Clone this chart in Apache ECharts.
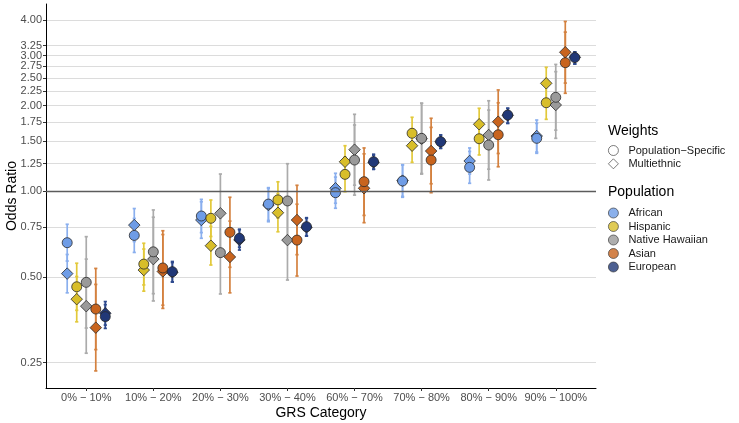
<!DOCTYPE html>
<html><head><meta charset="utf-8">
<script src="https://cdn.jsdelivr.net/npm/echarts@6/dist/echarts.min.js"></script>
<style>html,body{margin:0;padding:0;background:#fff}#c{width:739px;height:423px}</style>
</head><body><div id="c"></div>
<script>
const categories = ['0% \u2212 10%', '10% \u2212 20%', '20% \u2212 30%', '30% \u2212 40%', '60% \u2212 70%', '70% \u2212 80%', '80% \u2212 90%', '90% \u2212 100%'];
const yTicks = [0.25, 0.5, 0.75, 1, 1.25, 1.5, 1.75, 2, 2.25, 2.5, 2.75, 3, 3.25, 4];
const populations = ['African', 'Hispanic', 'Native Hawaiian', 'Asian', 'European'];
const weights = ['Population\u2212Specific', 'Multiethnic'];

// Population-specific weights (circles)
const african_ps_or = [0.66, 0.70, 0.819, 0.902, 0.989, 1.087, 1.214, 1.535];
const african_ps_lo = [0.569, 0.61, 0.716, 0.79, 0.872, 0.953, 1.067, 1.36];
const african_ps_hi = [0.766, 0.803, 0.937, 1.03, 1.122, 1.24, 1.381, 1.733];
const hispanic_ps_or = [0.462, 0.555, 0.804, 0.933, 1.147, 1.599, 1.53, 2.047];
const hispanic_ps_lo = [0.382, 0.469, 0.694, 0.806, 0.997, 1.405, 1.342, 1.79];
const hispanic_ps_hi = [0.559, 0.657, 0.932, 1.08, 1.32, 1.82, 1.744, 2.341];
const nh_ps_or = [0.479, 0.613, 0.609, 0.925, 1.288, 1.535, 1.454, 2.139];
const nh_ps_lo = [0.331, 0.437, 0.436, 0.684, 0.97, 1.155, 1.096, 1.64];
const nh_ps_hi = [0.693, 0.86, 0.851, 1.25, 1.71, 2.04, 1.929, 2.79];
const asian_ps_or = [0.386, 0.538, 0.718, 0.674, 1.081, 1.288, 1.58, 2.83];
const asian_ps_lo = [0.278, 0.398, 0.541, 0.504, 0.823, 0.989, 1.22, 2.21];
const asian_ps_hi = [0.536, 0.727, 0.953, 0.901, 1.42, 1.677, 2.046, 3.624];
const european_ps_or = [0.363, 0.522, 0.684, 0.751, 1.27, 1.494, 1.853, 2.95];
const european_ps_lo = [0.33, 0.48, 0.636, 0.698, 1.195, 1.416, 1.733, 2.80];
const european_ps_hi = [0.40, 0.567, 0.736, 0.808, 1.35, 1.577, 1.957, 3.09];

// Multiethnic weights (diamonds)
const african_me_or = [0.514, 0.761, 0.793, 0.895, 1.025, 1.09, 1.278, 1.564];
const african_me_lo = [0.44, 0.666, 0.684, 0.782, 0.908, 0.96, 1.15, 1.374];
const african_me_hi = [0.60, 0.87, 0.919, 1.024, 1.157, 1.237, 1.42, 1.78];
const hispanic_me_or = [0.418, 0.529, 0.644, 0.841, 1.27, 1.446, 1.72, 2.395];
const hispanic_me_lo = [0.348, 0.446, 0.551, 0.721, 1.115, 1.264, 1.512, 2.104];
const hispanic_me_hi = [0.502, 0.627, 0.753, 0.981, 1.446, 1.654, 1.957, 2.726];
const nh_me_or = [0.395, 0.578, 0.837, 0.674, 1.40, 1.53, 1.577, 2.01];
const nh_me_lo = [0.27, 0.412, 0.609, 0.488, 1.051, 1.15, 1.196, 1.535];
const nh_me_hi = [0.578, 0.811, 1.15, 0.931, 1.864, 2.036, 2.08, 2.632];
const asian_me_or = [0.332, 0.523, 0.588, 0.793, 1.025, 1.385, 1.756, 3.08];
const asian_me_lo = [0.234, 0.388, 0.44, 0.599, 0.776, 1.063, 1.358, 2.40];
const asian_me_hi = [0.471, 0.705, 0.786, 1.05, 1.354, 1.805, 2.27, 3.95];
const european_me_or = [0.373, 0.52, 0.675, 0.748, 1.265, 1.494, 1.85, 2.955];
const european_me_lo = [0.339, 0.481, 0.622, 0.696, 1.195, 1.416, 1.733, 2.80];
const european_me_hi = [0.41, 0.562, 0.733, 0.804, 1.339, 1.577, 1.957, 3.09];

const popColors = ['#6E9CE6', '#D8BE2A', '#9A9A9A', '#C8641E', '#213877'];
const barColors = ['#8AAFEE', '#E2C93A', '#ABABAB', '#D4813F', '#2E4A8E'];

const popData = [
  { ps: [african_ps_or, african_ps_lo, african_ps_hi], me: [african_me_or, african_me_lo, african_me_hi] },
  { ps: [hispanic_ps_or, hispanic_ps_lo, hispanic_ps_hi], me: [hispanic_me_or, hispanic_me_lo, hispanic_me_hi] },
  { ps: [nh_ps_or, nh_ps_lo, nh_ps_hi], me: [nh_me_or, nh_me_lo, nh_me_hi] },
  { ps: [asian_ps_or, asian_ps_lo, asian_ps_hi], me: [asian_me_or, asian_me_lo, asian_me_hi] },
  { ps: [european_ps_or, european_ps_lo, european_ps_hi], me: [european_me_or, european_me_lo, european_me_hi] }
];

const FONT = 'Liberation Sans, Arial, Helvetica, sans-serif';
const dodge = 0.142;
const series = [];

// error bars
popData.forEach((p, k) => {
  ['me', 'ps'].forEach(w => {
    const [or, lo, hi] = p[w];
    series.push({
      type: 'custom', name: populations[k] + ' ' + w + ' CI', silent: true, z: 2,
      data: categories.map((c, i) => [i + (k - 2) * dodge, lo[i], hi[i]]),
      encode: { x: 0, y: [1, 2] },
      renderItem: (params, api) => {
        const x = api.value(0);
        const a = api.coord([x, api.value(1)]);
        const b = api.coord([x, api.value(2)]);
        const st = { stroke: barColors[k], lineWidth: 1.7 };
        return {
          type: 'group', children: [
            { type: 'line', shape: { x1: a[0], y1: a[1], x2: b[0], y2: b[1] }, style: st },
            { type: 'line', shape: { x1: a[0] - 1.6, y1: a[1], x2: a[0] + 1.6, y2: a[1] }, style: st },
            { type: 'line', shape: { x1: b[0] - 1.6, y1: b[1], x2: b[0] + 1.6, y2: b[1] }, style: st }
          ]
        };
      }
    });
  });
});

// points
popData.forEach((p, k) => {
  ['me', 'ps'].forEach(w => {
    const or = p[w][0];
    series.push({
      type: 'scatter', name: populations[k] + ' (' + w + ')', z: 3,
      symbol: w === 'ps' ? 'circle' : 'diamond',
      symbolSize: w === 'ps' ? 10 : 11.5,
      data: or.map((v, i) => [i + (k - 2) * dodge, v]),
      itemStyle: { color: popColors[k], borderColor: '#2a2a2a', borderWidth: 0.8, opacity: 1 },
      emphasis: { disabled: true }
    });
  });
});

// reference line at 1
series.push({
  type: 'line', name: 'ref', data: [], silent: true,
  markLine: {
    silent: true, symbol: 'none', label: { show: false },
    lineStyle: { color: '#5c5c5c', width: 1.3, type: 'solid' },
    data: [{ yAxis: 1 }]
  }
});

// legend dummy series
weights.forEach((w, j) => series.push({
  type: 'scatter', name: w, data: [], symbol: j === 0 ? 'circle' : 'diamond',
  itemStyle: { color: '#fff', borderColor: '#333', borderWidth: 0.8 }
}));
populations.forEach((n, k) => series.push({
  type: 'scatter', name: n, data: [], symbol: 'circle',
  itemStyle: { color: popColors[k], borderColor: '#333', borderWidth: 0.8 }
}));

const chart = echarts.init(document.getElementById('c'));
chart.setOption({
  animation: false,
  backgroundColor: '#fff',
  grid: { left: 46, right: 143, top: 4, bottom: 35, containLabel: false, outerBoundsMode: 'none' },
  xAxis: {
    type: 'value', min: -0.6, max: 7.6,
    axisLine: { show: true, onZero: false, lineStyle: { color: '#000', width: 1 } },
    axisTick: { show: true, length: 3, customValues: [0, 1, 2, 3, 4, 5, 6, 7], lineStyle: { color: '#333' } },
    axisLabel: {
      customValues: [0, 1, 2, 3, 4, 5, 6, 7], margin: 4,
      formatter: v => categories[Math.round(v)] || '',
      fontSize: 11, color: '#4d4d4d', fontFamily: FONT
    },
    splitLine: { show: false },
    name: 'GRS Category', nameLocation: 'middle', nameGap: 18, nameMoveOverlap: false,
    nameTextStyle: { fontSize: 14, color: '#000', fontFamily: FONT }
  },
  yAxis: {
    type: 'log', logBase: 2, min: 0.2038, max: 4.549,
    axisLine: { show: true, onZero: false, lineStyle: { color: '#000', width: 1 } },
    axisTick: { show: true, length: 3, customValues: yTicks, lineStyle: { color: '#333' } },
    axisLabel: {
      customValues: yTicks, margin: 4,
      formatter: v => Number(v).toFixed(2),
      fontSize: 11, color: '#4d4d4d', fontFamily: FONT
    },
    splitLine: { show: true, lineStyle: { color: '#DCDCDC', width: 1 } },
    name: 'Odds Ratio', nameLocation: 'middle', nameGap: 27, nameMoveOverlap: false,
    nameTextStyle: { fontSize: 14, color: '#000', fontFamily: FONT }
  },
  legend: [
    {
      orient: 'vertical', left: 608, top: 145, padding: 0,
      itemWidth: 10, itemHeight: 10, itemGap: 2.3, selectedMode: false,
      textStyle: { fontSize: 11, color: '#1a1a1a', fontFamily: FONT, padding: [0, 0, 0, 5] },
      data: [
        { name: weights[0], icon: 'circle', itemStyle: { color: '#fff', borderColor: '#333', borderWidth: 0.8 } },
        { name: weights[1], icon: 'diamond', itemStyle: { color: '#fff', borderColor: '#333', borderWidth: 0.8 } }
      ]
    },
    {
      orient: 'vertical', left: 608, top: 207.5, padding: 0,
      itemWidth: 10, itemHeight: 10, itemGap: 2.5, selectedMode: false,
      textStyle: { fontSize: 11, color: '#1a1a1a', fontFamily: FONT, padding: [0, 0, 0, 5] },
      data: populations.map((n, k) => ({ name: n, icon: 'circle', itemStyle: { color: popColors[k], borderColor: '#333', borderWidth: 0.8 } }))
    }
  ],
  graphic: [
    { type: 'text', x: 608, y: 131, style: { text: 'Weights', font: '14px ' + FONT, fill: '#000', verticalAlign: 'middle' } },
    { type: 'text', x: 608, y: 192, style: { text: 'Population', font: '14px ' + FONT, fill: '#000', verticalAlign: 'middle' } }
  ],
  series: series
});
</script></body></html>
